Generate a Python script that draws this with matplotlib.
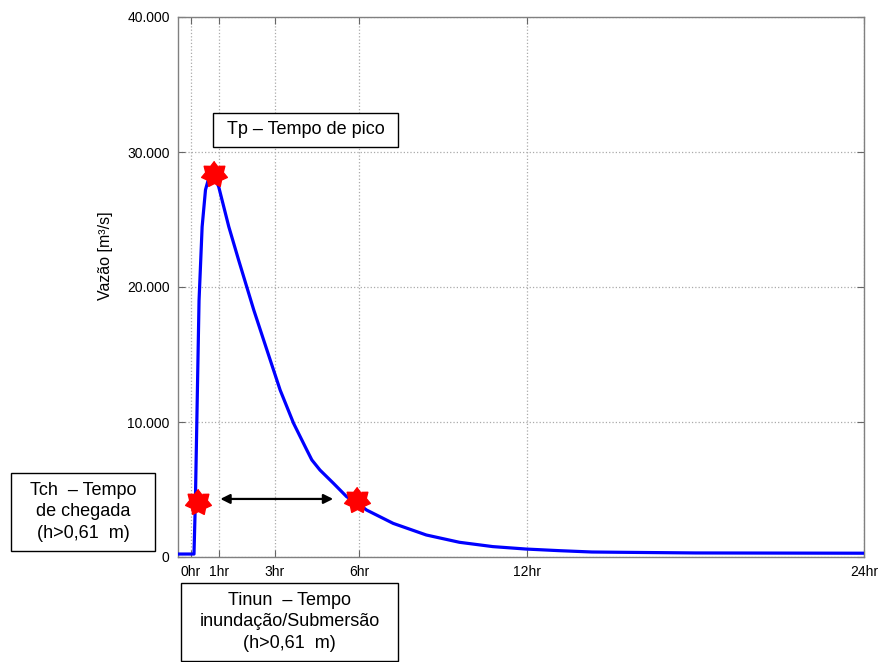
import matplotlib
matplotlib.use("Agg")
import matplotlib.pyplot as plt
import numpy as np
from matplotlib.patches import Rectangle

plt.rcParams["font.family"] = ["Liberation Sans", "DejaVu Sans"]

# hidrograma de vazão (horas após a ruptura, m³/s)
horas = [-0.45, 0.12, 0.17, 0.30, 0.41, 0.53, 0.65, 0.80, 1.00, 1.36, 1.71,
         2.25, 2.72, 3.19, 3.67, 4.14, 4.32, 4.61, 5.09, 5.56, 5.96, 6.27,
         7.22, 8.40, 9.58, 10.77, 11.95, 13.13, 14.30, 15.26, 18.0, 24.0]
vazao = [220, 220, 4200, 19000, 24460, 27200, 28100, 28400, 27430, 24470,
         22000, 18300, 15330, 12370, 9900, 7930, 7190, 6440, 5460, 4470,
         3980, 3480, 2490, 1630, 1090, 770, 590, 470, 370, 350, 300, 280]

# pontos notáveis: chegada, pico, fim da inundação
marcos_t = [0.28, 0.82, 5.93]
marcos_q = [4100, 28400, 4200]

# duração da inundação (seta)
seta_ini, seta_fim, seta_q = 1.06, 5.08, 4300

xticks = [0, 1, 3, 6, 12, 24]
xlabels = ["0hr", "1hr", "3hr", "6hr", "12hr", "24hr"]
yticks = [0, 10000, 20000, 30000, 40000]
ylabels = ["0", "10.000", "20.000", "30.000", "40.000"]

# estrela de 7 pontas pouco recortada
ang = np.pi / 2 + np.arange(14) * np.pi / 7
raio = np.where(np.arange(14) % 2 == 0, 1.0, 0.68)
estrela = np.column_stack([raio * np.cos(ang), raio * np.sin(ang)])

fig = plt.figure(figsize=(8.82, 6.62), dpi=100)
ax = fig.add_axes([178 / 882, 1 - 557 / 662, 686 / 882, 540 / 662])

ax.plot(horas, vazao, color="#0000ff", lw=2.3, zorder=3,
        solid_joinstyle="round")
ax.plot(marcos_t, marcos_q, ls="none", marker=estrela, ms=19,
        color="#ff0000", mec="#ff0000", zorder=4)
ax.annotate("", xy=(seta_fim, seta_q), xytext=(seta_ini, seta_q),
            arrowprops=dict(arrowstyle="<|-|>", color="black", lw=1.6,
                            mutation_scale=14, shrinkA=0, shrinkB=0))

ax.set_xlim(-0.45, 24)
ax.set_ylim(0, 40000)
ax.set_xticks(xticks)
ax.set_xticklabels(xlabels)
ax.set_yticks(yticks)
ax.set_yticklabels(ylabels)
ax.tick_params(direction="in", top=True, right=True, length=5,
               color="#666666", labelsize=10, pad=6)
ax.grid(True, ls=":", color="#aaaaaa", lw=0.9)
for s in ax.spines.values():
    s.set_color("#808080")
    s.set_linewidth(1.0)

ax.set_ylabel("Vazão [m³/s]", fontsize=11.5)
ax.yaxis.set_label_coords((113 - 178) / 686, (557 - 256) / 540)


def caixa(x0, y0, x1, y1, texto):
    # caixa de texto em pixels da figura (origem no topo)
    W, H = 882, 662
    fig.patches.append(Rectangle((x0 / W, 1 - y1 / H), (x1 - x0) / W,
                                 (y1 - y0) / H, transform=fig.transFigure,
                                 facecolor="white", edgecolor="black",
                                 lw=1.0, zorder=5))
    fig.text((x0 + x1) / 2 / W, 1 - (y0 + y1) / 2 / H, texto, ha="center",
             va="center", fontsize=13, linespacing=1.35, zorder=6)


caixa(213, 113, 398, 147, "Tp – Tempo de pico")
caixa(11, 473, 155, 551, "Tch  – Tempo\nde chegada\n(h>0,61  m)")
caixa(181, 583, 398, 661, "Tinun  – Tempo\ninundação/Submersão\n(h>0,61  m)")

fig.savefig("out.png", dpi=100)
